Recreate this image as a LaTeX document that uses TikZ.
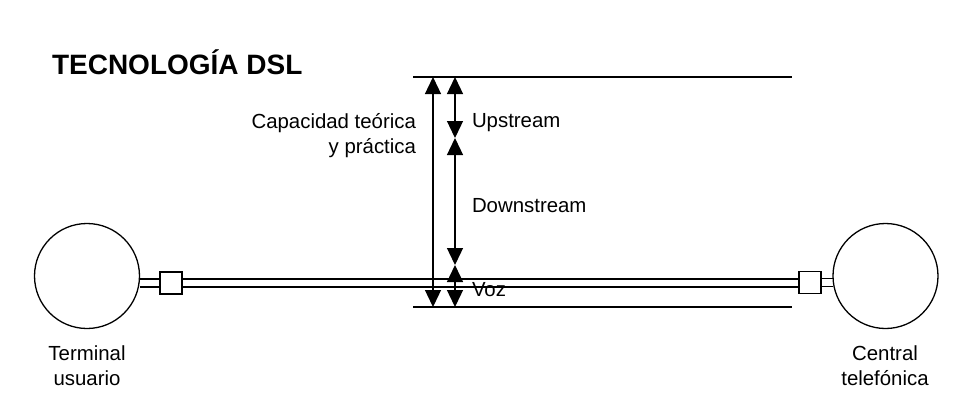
\documentclass[tikz,border=0pt]{standalone}
\usepackage{fontspec}
\setmainfont{Liberation Sans}
\usetikzlibrary{arrows.meta}
\begin{document}
\begin{tikzpicture}[x=1pt,y=-1pt,
  every node/.style={inner sep=0pt,outer sep=0pt},
  lbl/.style={font=\fontsize{20.4}{25}\selectfont},
  station/.style={circle,draw,line width=1.3pt,minimum size=105pt},
  plug/.style={draw,line width=1.3pt,minimum size=22pt,fill=white},
  wire/.style={line width=1.3pt},
  dim/.style={line width=1.3pt,{Triangle[length=17pt,width=16pt]}-{Triangle[length=17pt,width=16pt]}}]
\useasboundingbox (0,0) rectangle (964,407);
% title
\node[anchor=west,font=\fontsize{28}{32}\bfseries\selectfont] (title) at (52,62) {TECNOLOGÍA DSL};
% stations
\node[station] (lc) at (87,276) {};
\node[station] (rc) at (885.5,276) {};
\node[plug] (sqL) at (171,283) {};
\node[plug] (sqR) at (810,282.5) {};
% double wire
\draw[wire] ([yshift=4pt]sqL.west) -- ([yshift=4pt]sqL.west -| lc.east);
\draw[wire] ([yshift=-4pt]sqL.west) -- ([yshift=-4pt]sqL.west -| lc.east);
\draw[wire] ([yshift=4pt]sqL.east) -- ([yshift=4pt]sqL.east -| sqR.west);
\draw[wire] ([yshift=-4pt]sqL.east) -- ([yshift=-4pt]sqL.east -| sqR.west);
\draw[wire] ([yshift=4pt]sqR.east) -- ([yshift=4pt]sqR.east -| rc.west);
\draw[wire] ([yshift=-4pt]sqR.east) -- ([yshift=-4pt]sqR.east -| rc.west);
% limit lines
\coordinate (t1) at (413,77);
\coordinate (t2) at (792,77);
\coordinate (b1) at (413,307);
\coordinate (b2) at (792,307);
\draw[wire] (t1) -- (t2);
\draw[wire] (b1) -- (b2);
% dimension arrows
\coordinate (ca) at (433,77);
\coordinate (cb) at (433,307);
\coordinate (u1) at (455,77);
\coordinate (u2) at (455,138);
\coordinate (u3) at (455,265);
\coordinate (u4) at (455,307);
\draw[dim] (ca) -- (cb);
\draw[dim] (u1) -- (u2);
\draw[dim] (u2) -- (u3);
\draw[dim] (u3) -- (u4);
% labels
\node[lbl,anchor=west] (up) at (472,123) {Upstream};
\node[lbl,anchor=west] (down) at (472,205.5) {Downstream};
\node[lbl,anchor=west] (voz) at (472,290) {Voz};
\node[lbl,anchor=east,align=right] (cap) at (416,135.5) {Capacidad teórica\\y práctica};
\node[lbl,align=center] (tu) at (87,366) {Terminal\\usuario};
\node[lbl,align=center] (ct) at (885,366) {Central\\telefónica};
\end{tikzpicture}
\end{document}
